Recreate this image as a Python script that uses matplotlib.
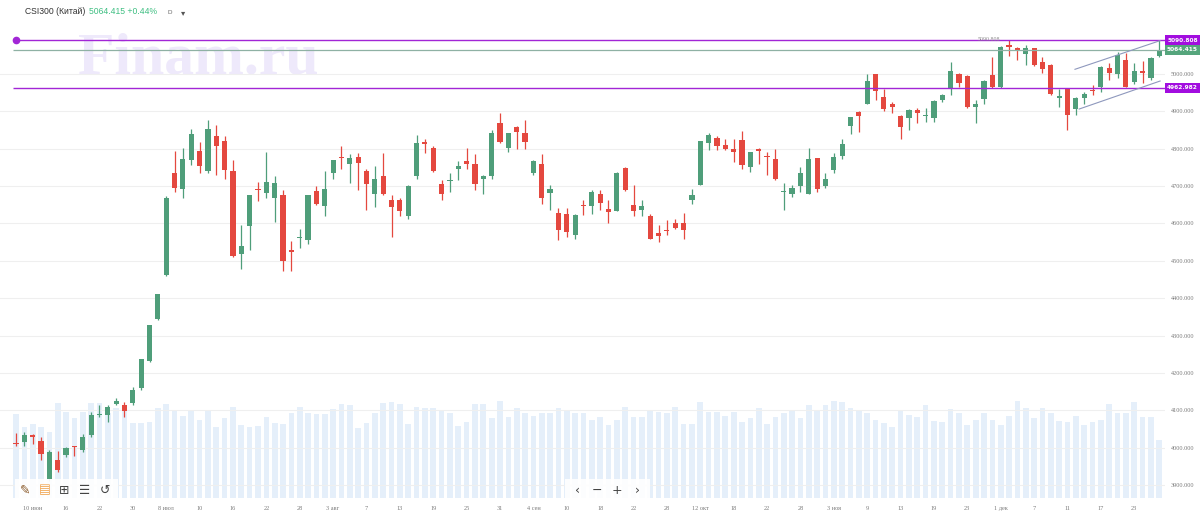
import numpy as np
import matplotlib
matplotlib.use("Agg")
import matplotlib.pyplot as plt
from matplotlib.patches import Rectangle
from matplotlib.transforms import blended_transform_factory

# ---------------- data ----------------
opens = [4012, 4014, 4035, 4017, 3916, 3967, 3981, 4003, 3994, 4035, 4087, 4086, 4117, 4115, 4119, 4160,
         4231, 4345, 4461, 4736, 4692, 4769, 4794, 4741, 4835, 4821, 4740, 4519, 4592, 4693, 4682, 4667,
         4676, 4528, 4561, 4555, 4686, 4648, 4734, 4777, 4760, 4778, 4740, 4680, 4727, 4664, 4662, 4619,
         4727, 4819, 4803, 4705, 4714, 4746, 4768, 4759, 4718, 4727, 4870, 4803, 4859, 4841, 4735, 4758,
         4682, 4629, 4626, 4568, 4650, 4646, 4680, 4638, 4634, 4749, 4649, 4635, 4619, 4575, 4581, 4602,
         4602, 4662, 4702, 4814, 4829, 4811, 4798, 4823, 4752, 4799, 4779, 4772, 4684, 4678, 4701, 4680,
         4774, 4701, 4743, 4781, 4861, 4899, 4921, 4999, 4939, 4919, 4888, 4881, 4903, 4889, 4883, 4930,
         4959, 4999, 4995, 4911, 4932, 4996, 4964, 5078, 5069, 5054, 5069, 5031, 5024, 4935, 4959, 4905,
         4935, 4958, 4966, 5015, 5000, 5038, 4979, 5008, 4988, 5048]
highs = [4038, 4041, 4037, 4028, 3994, 3992, 4001, 4005, 4037, 4095, 4115, 4113, 4133, 4121, 4162, 4238,
         4327, 4412, 4673, 4794, 4801, 4854, 4818, 4878, 4863, 4834, 4771, 4595, 4677, 4711, 4790, 4727,
         4689, 4553, 4586, 4676, 4700, 4740, 4769, 4807, 4786, 4789, 4747, 4753, 4789, 4676, 4669, 4703,
         4836, 4825, 4807, 4716, 4736, 4768, 4801, 4786, 4730, 4850, 4895, 4843, 4861, 4877, 4771, 4787,
         4702, 4640, 4642, 4626, 4662, 4689, 4689, 4662, 4737, 4751, 4702, 4662, 4624, 4595, 4609, 4613,
         4629, 4692, 4821, 4841, 4834, 4825, 4825, 4848, 4790, 4801, 4792, 4798, 4709, 4702, 4752, 4803,
         4776, 4735, 4789, 4825, 4886, 4900, 4999, 5001, 4960, 4926, 4890, 4905, 4910, 4908, 4931, 4946,
         5033, 5002, 4997, 4930, 4984, 5046, 5075, 5090.808, 5073, 5078, 5070, 5046, 5026, 4959, 4962, 4939,
         4953, 4971, 5022, 5029, 5060, 5057, 5030, 5036, 5046, 5090.808]
lows = [4003, 4005, 4010, 3967, 3911, 3934, 3976, 3978, 3987, 4028, 4081, 4068, 4113, 4081, 4115, 4153,
        4229, 4342, 4459, 4685, 4667, 4756, 4734, 4735, 4729, 4720, 4510, 4479, 4528, 4660, 4669, 4604,
        4473, 4473, 4535, 4544, 4649, 4619, 4718, 4745, 4707, 4689, 4637, 4643, 4676, 4564, 4619, 4613,
        4720, 4789, 4737, 4662, 4683, 4716, 4747, 4689, 4680, 4720, 4815, 4792, 4798, 4799, 4729, 4653,
        4635, 4555, 4564, 4559, 4622, 4626, 4635, 4600, 4632, 4687, 4619, 4619, 4559, 4550, 4568, 4584,
        4559, 4653, 4702, 4796, 4796, 4796, 4765, 4747, 4738, 4759, 4729, 4716, 4635, 4671, 4683, 4678,
        4685, 4696, 4734, 4772, 4839, 4845, 4919, 4930, 4902, 4895, 4826, 4850, 4868, 4872, 4872, 4926,
        4944, 4966, 4910, 4868, 4920, 4962, 4962, 5048, 5038, 5024, 5021, 5004, 4944, 4911, 4850, 4890,
        4921, 4944, 4953, 4984, 4988, 4964, 4973, 4975, 4984, 5045]
closes = [4010, 4035, 4028, 3983, 3987, 3940, 3999, 4001, 4029, 4086, 4088, 4108, 4126, 4099, 4153, 4238,
          4327, 4412, 4667, 4696, 4772, 4839, 4753, 4854, 4807, 4743, 4512, 4539, 4677, 4689, 4711, 4709,
          4500, 4523, 4564, 4676, 4651, 4691, 4769, 4776, 4776, 4762, 4705, 4720, 4680, 4644, 4634, 4700,
          4814, 4813, 4740, 4678, 4717, 4753, 4760, 4705, 4728, 4843, 4817, 4841, 4844, 4817, 4768, 4668,
          4691, 4582, 4577, 4622, 4648, 4684, 4655, 4631, 4735, 4689, 4634, 4647, 4559, 4567, 4579, 4589,
          4582, 4677, 4821, 4838, 4808, 4799, 4790, 4756, 4790, 4794, 4777, 4718, 4686, 4695, 4734, 4772,
          4693, 4718, 4777, 4812, 4884, 4887, 4982, 4955, 4906, 4911, 4857, 4903, 4896, 4891, 4929, 4944,
          5008, 4977, 4912, 4920, 4982, 4964, 5073, 5073, 5062, 5069, 5024, 5013, 4946, 4941, 4890, 4935,
          4946, 4956, 5020, 5002, 5051, 4966, 5009, 5004, 5044, 5064.415]
volumes = [84, 71, 74, 71, 66, 95, 86, 80, 86, 95, 95, 85, 90, 87, 75, 75, 76, 90, 94, 88, 82, 88, 78, 87,
           71, 80, 91, 73, 71, 72, 81, 75, 74, 85, 91, 85, 84, 84, 89, 94, 93, 70, 75, 85, 95, 96, 94, 74,
           91, 90, 90, 87, 85, 72, 76, 94, 94, 80, 97, 81, 90, 85, 82, 85, 85, 90, 88, 85, 85, 78, 81, 73,
           78, 91, 81, 81, 87, 86, 85, 91, 74, 74, 96, 86, 86, 82, 86, 76, 80, 90, 74, 81, 85, 88, 80, 93,
           88, 93, 97, 96, 90, 88, 85, 78, 75, 71, 88, 83, 81, 93, 77, 76, 89, 85, 73, 78, 85, 78, 73, 82,
           97, 90, 80, 90, 85, 77, 76, 82, 73, 76, 78, 94, 85, 85, 96, 81, 81, 58]
x_labels = ["10 июн", "16", "22", "30", "8 июл", "10", "16", "22", "28", "3 авг", "7", "13", "19", "25",
            "31", "4 сен", "10", "18", "22", "28", "12 окт", "18", "22", "28", "3 ноя", "9", "13", "19",
            "23", "1 дек", "7", "11", "17", "23"]
y_ticks = [3900, 4000, 4100, 4200, 4300, 4400, 4500, 4600, 4700, 4800, 4900, 5000]
level_high = 5090.808
level_last = 5064.415
level_low = 4962.982
channel_upper = ([126.9, 137.1], [5012.6, 5089.3])
channel_lower = ([127.4, 137.1], [4906.2, 4981.2])
title = "CSI300 (Китай)"
last_text = "5064.415 +0.44%"

# ---------------- styling ----------------
GREEN = "#4f9e7a"
RED = "#e4483f"
PURPLE = "#a226d6"
VOL = "#e5effa"
GRID = "#efefef"

W, H = 1200, 532
fig = plt.figure(figsize=(W / 100, H / 100), dpi=100)
fig.patch.set_facecolor("white")

ax_left, ax_right, ax_top, ax_bot = 0, 1165, 22, 498
ax = fig.add_axes([ax_left / W, 1 - ax_bot / H, (ax_right - ax_left) / W, (ax_bot - ax_top) / H])
ax2 = ax.twinx()
ax.set_zorder(2)
ax.patch.set_visible(False)
ax2.set_zorder(1)

n = len(opens)
idx = np.arange(n)
pitch = 8.345
ax.set_xlim(-16 / pitch, (ax_right - 16) / pitch)
ax.set_ylim(5000 - (ax_bot - 74) / 0.3736, 5000 + (74 - ax_top) / 0.3736)

# volume
ax2.bar(idx, volumes, width=0.68, color=VOL, linewidth=0, zorder=1)
ax2.set_ylim(0, ax_bot - ax_top)
ax2.set_yticks([])
for s in ax2.spines.values():
    s.set_visible(False)

# grid
xt = list(range(2, 2 + 4 * len(x_labels), 4))
ax2.set_xticks(xt)
ax2.tick_params(axis="x", length=0, labelbottom=False)
ax2.grid(True, axis="x", color=GRID, lw=0.8, zorder=0)
ax2.set_axisbelow(True)
ax.set_xticks(xt)
ax.set_xticklabels(x_labels)
ax.set_yticks(y_ticks)
ax.set_yticklabels([f"{v:.3f}" for v in y_ticks])
ax.yaxis.tick_right()
ax.grid(True, axis="y", color=GRID, lw=0.8, zorder=0)
ax.tick_params(axis="both", length=0, labelsize=4.5, labelcolor="#7a7a7a")
ax.tick_params(axis="y", pad=4.0)
ax.tick_params(axis="x", pad=5.5)
for lab in ax.get_xticklabels() + ax.get_yticklabels():
    lab.set_family("Liberation Serif")
for s in ax.spines.values():
    s.set_visible(False)

# watermark
ax.text(78 / W, 1 - 73 / H, "Finam.ru", transform=fig.transFigure, fontsize=43,
        family="Liberation Serif", weight="bold", color="#eee9fb", ha="left", va="baseline", zorder=0.2)

# candles
for i in range(n):
    o, h, l, c = opens[i], highs[i], lows[i], closes[i]
    col = GREEN if c >= o else RED
    ax.vlines(i, l, h, color=col, lw=0.9, zorder=3)
    body = max(abs(c - o), 2.7)
    ax.bar(i, body, bottom=min(o, c) if abs(c - o) >= 2.7 else (o + c) / 2 - 1.35,
           width=0.62, color=col, linewidth=0, zorder=4)

# horizontal levels
x1 = ax.get_xlim()[1]
ax.hlines(level_high, 0, x1, color=PURPLE, lw=1.0, zorder=5)
ax.plot([0], [level_high], "o", color=PURPLE, ms=4.5, zorder=6)
ax.hlines(level_last, -0.3, x1, color="#8fb1a4", lw=0.9, zorder=5)
ax.hlines(level_low, -0.3, x1, color=PURPLE, lw=1.0, zorder=5)

# channel
ax.plot(channel_upper[0], channel_upper[1], color="#8e98bd", lw=0.8, zorder=5)
ax.plot(channel_lower[0], channel_lower[1], color="#8e98bd", lw=0.8, zorder=5)

# high annotation
ax.text(117.9, level_high + 1, f"{level_high:.3f}", fontsize=4.2, color="#8a8a8a",
        ha="right", va="center", family="Liberation Serif", zorder=6)

# price labels on right
bt = blended_transform_factory(fig.transFigure, ax.transData)
box_h = 10 / 0.3736
for val, col in [(level_high, "#a20ddf"), (level_last, "#55a57c"), (level_low, "#a20ddf")]:
    r = Rectangle((ax_right / W, val - box_h / 2), (W - ax_right) / W, box_h, transform=bt,
                  facecolor=col, edgecolor="none", clip_on=False, zorder=10)
    fig.add_artist(r)
    t = fig.text((ax_right + 17.5) / W, val, f"{val:.3f}", fontsize=4.2, color="white",
                 ha="center", va="center", weight="bold", zorder=11)
    t.set_transform(bt)

# header
fig.text(25 / W, 1 - 12 / H, title, fontsize=6.2, family="Liberation Sans", color="#333333", va="center")
fig.text(89 / W, 1 - 12 / H, last_text, fontsize=6.2, family="Liberation Sans", color="#3fbf82", va="center")
fig.text(170 / W, 1 - 12 / H, "D", fontsize=4.5, family="Liberation Sans", color="#666666", va="center", ha="center")
fig.text(183 / W, 1 - 12.5 / H, "▾", fontsize=6, family="DejaVu Sans", color="#555555", va="center", ha="center")

# toolbar (bottom left)
fig.add_artist(Rectangle((15 / W, 1 - 500 / H), 103 / W, 21 / H, transform=fig.transFigure,
                         facecolor="white", edgecolor="none", alpha=0.92, zorder=12))
tools = [("✎", 25, "#8a5a2a"), ("▤", 45, "#f0a24a"), ("⊞", 64, "#444444"), ("☰", 85, "#444444"), ("↺", 105, "#444444")]
for g, px, col in tools:
    fig.text(px / W, 1 - 490 / H, g, fontsize=9, family="DejaVu Sans", color=col, ha="center", va="center", zorder=13)

# navigation (bottom centre)
fig.add_artist(Rectangle((565 / W, 1 - 500 / H), 85 / W, 21 / H, transform=fig.transFigure,
                         facecolor="white", edgecolor="none", alpha=0.92, zorder=12))
for g, px in [("‹", 577), ("−", 597), ("+", 617), ("›", 637)]:
    fig.text(px / W, 1 - 490 / H, g, fontsize=9, family="DejaVu Sans", color="#444444", ha="center", va="center", zorder=13)

fig.savefig("out.png", dpi=100, facecolor="white")
